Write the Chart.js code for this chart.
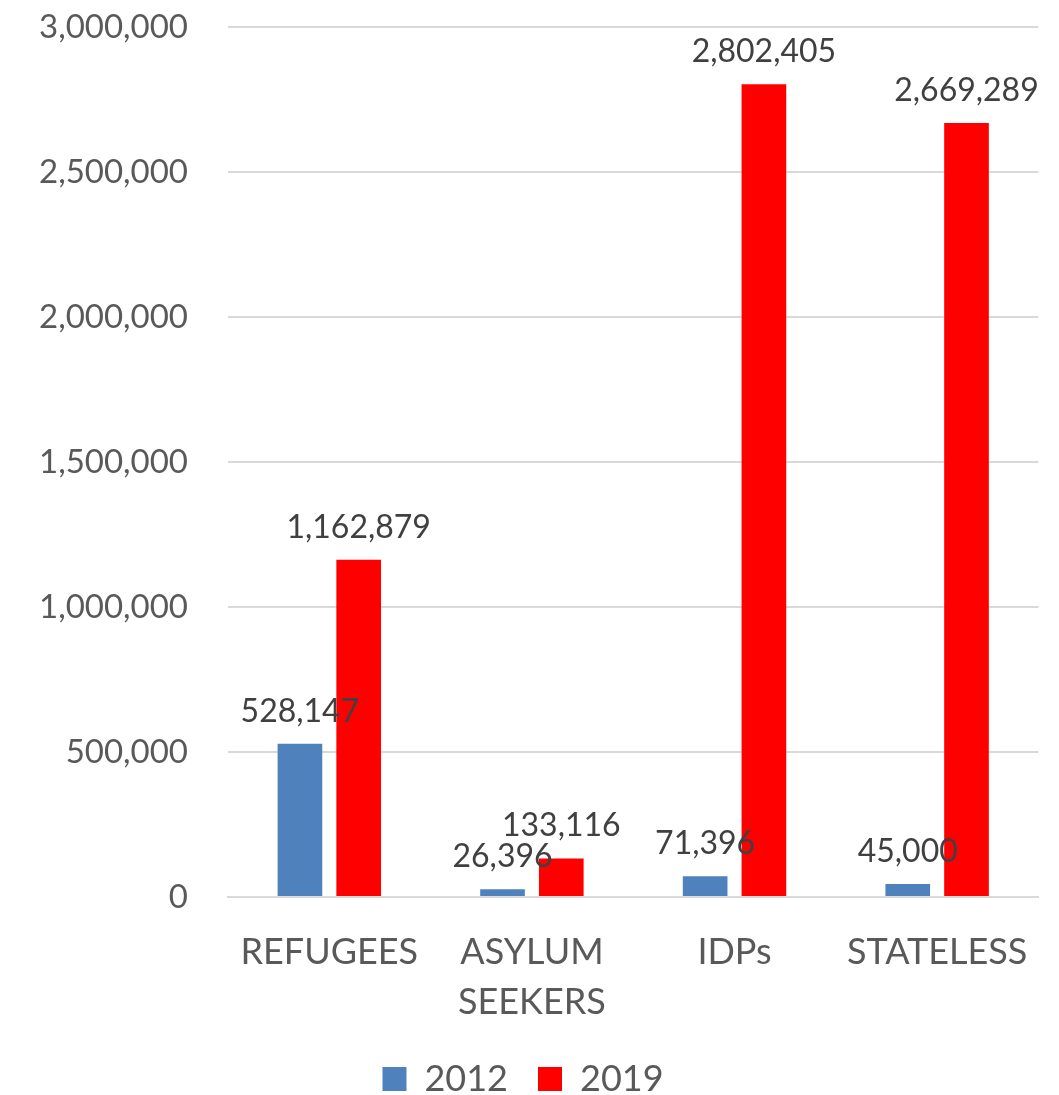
<!DOCTYPE html>
<html>
<head>
<meta charset="utf-8">
<script src="https://cdn.jsdelivr.net/npm/chart.js@4.4.0/dist/chart.umd.min.js"></script>
<style>
  html, body { margin: 0; padding: 0; background: #fff; }
  #wrap { width: 1059px; height: 1095px; }
</style>
</head>
<body>
<div id="wrap"><canvas id="popChart"></canvas></div>
<script>
// Categories and values
const categories = ["REFUGEES", ["ASYLUM", "SEEKERS"], "IDPs", "STATELESS"];
const years = ["2012", "2019"];
const values2012 = [528147, 26396, 71396, 45000];
const values2019 = [1162879, 133116, 2802405, 2669289];
const yTicks = [0, 500000, 1000000, 1500000, 2000000, 2500000, 3000000];

const fmt = (v) => v.toLocaleString("en-US");

// Value labels above each bar
const valueLabels = {
  id: "valueLabels",
  afterDatasetsDraw(chart) {
    const ctx = chart.ctx;
    ctx.save();
    ctx.font = "32px Lato";
    ctx.fillStyle = "#404040";
    ctx.textAlign = "center";
    ctx.textBaseline = "alphabetic";
    chart.data.datasets.forEach((ds, i) => {
      chart.getDatasetMeta(i).data.forEach((bar, j) => {
        ctx.fillText(fmt(ds.data[j]), bar.x, bar.y - 22);
      });
    });
    ctx.restore();
  },
};

const ctx = document.getElementById("popChart").getContext("2d");
new Chart(ctx, {
  type: "bar",
  data: {
    labels: categories,
    datasets: [
      {
        label: years[0],
        data: values2012,
        backgroundColor: "#4F81BD",
        categoryPercentage: 0.58,
        barPercentage: 0.76,
      },
      {
        label: years[1],
        data: values2019,
        backgroundColor: "#FF0000",
        categoryPercentage: 0.58,
        barPercentage: 0.76,
      },
    ],
  },
  options: {
    responsive: true,
    maintainAspectRatio: false,
    animation: false,
    layout: { padding: { left: 0, right: 13, top: 4, bottom: -12 } },
    plugins: {
      legend: {
        position: "bottom",
        labels: {
          color: "#595959",
          font: { family: "Lato", size: 36 },
          boxWidth: 24,
          boxHeight: 24,
          padding: 30,
        },
      },
      tooltip: { enabled: false },
    },
    scales: {
      x: {
        grid: { display: false, drawTicks: false },
        border: { display: true, color: "#d9d9d9", width: 2 },
        ticks: {
          color: "#595959",
          font: { family: "Lato", size: 36, lineHeight: 1.4 },
          padding: 30,
          maxRotation: 0,
          autoSkip: false,
        },
        afterFit(axis) {
          axis.height = 134;
        },
      },
      y: {
        min: 0,
        max: 3000000,
        afterBuildTicks(axis) {
          axis.ticks = yTicks.map((v) => ({ value: v }));
        },
        grid: { color: "#d9d9d9", lineWidth: 2, drawTicks: false },
        border: { display: false },
        ticks: {
          color: "#595959",
          font: { family: "Lato", size: 33 },
          padding: 40,
          callback: (v) => fmt(v),
        },
        afterFit(axis) {
          axis.width = 228;
          axis.paddingTop = 27;
          axis.paddingBottom = 20;
        },
      },
    },
  },
  plugins: [valueLabels],
});
</script>
</body>
</html>
